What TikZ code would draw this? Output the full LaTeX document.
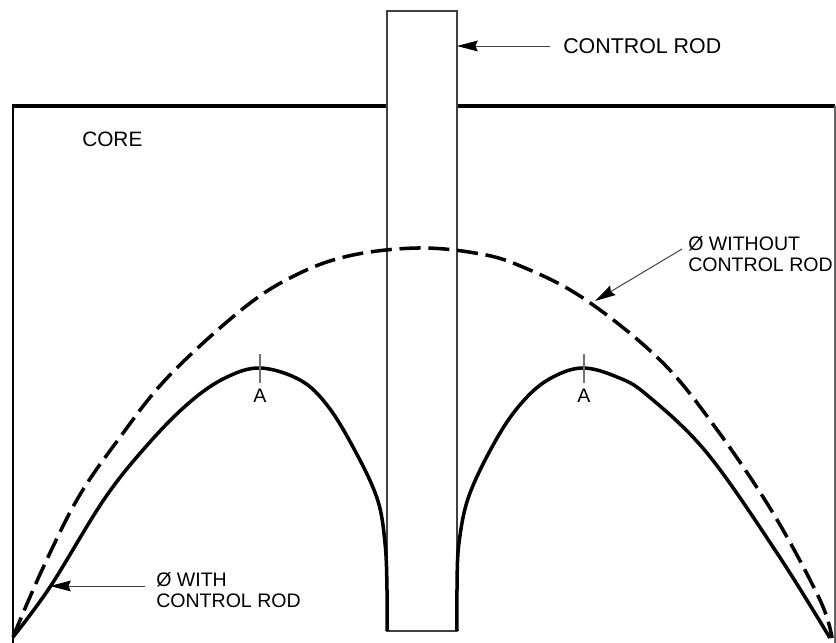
\documentclass[tikz,border=0pt]{standalone}
\usepackage{fontspec}
\setmainfont{Liberation Sans}
\usetikzlibrary{arrows.meta}
\tikzset{
  leader/.style={->, black!75, line width=0.7pt},
  flux/.style={line width=2.5pt, line join=round},
  tick/.style={black!55, line width=1.2pt},
  caption/.style={anchor=west, align=left, inner sep=0pt, font=\fontsize{13.9}{15}\selectfont}
}
\begin{document}
\begin{tikzpicture}[>={Stealth[length=0.52cm, width=0.27cm, inset=0.06cm, black]}, x=0.025cm, y=-0.025cm]
  \useasboundingbox (0,0) rectangle (836,643);
  % core outline
  \draw[line width=1.8pt] (13,643) -- (13,106);
  \draw[line width=2.3pt] (12,106) -- (387,106);
  \draw[line width=2.3pt] (457,106) -- (835,106);
  \draw[black!60, line width=1pt] (835,106) -- (835,643);
  % the rod
  \draw[black!75, line width=1pt] (387,11) rectangle (457,631);
  \coordinate (rodtop) at (457,11);
  % flux without the rod
  \draw[flux, dash pattern=on 15pt off 5.5pt] plot[smooth, tension=0.6] coordinates
    {(13,637) (42,570) (78,498) (118,440) (168,377) (245,307) (300,273) (353,255) (418,248)
     (475,253) (518,265) (583,298) (660,360) (715,427) (773,513) (820,600) (832,638)};
  % flux with the rod
  \draw[flux] plot[smooth, tension=0.6] coordinates
    {(13,637) (50,587) (105,498) (150,442) (190,402) (225,378) (260,368) (300,380) (327,405) (353,447) (377,498) (385,543) (387,590) (387,631)};
  \draw[flux] plot[smooth, tension=0.6] coordinates
    {(457,631) (457,590) (459,543) (470,493) (500,433) (527,397) (553,377) (583,368) (617,377) (647,395) (707,453) (777,553) (830,638)};
  % the two peaks
  \draw[tick] (260,354) -- (260,383);
  \draw[tick] (584,354) -- (584,383);
  \node[caption, anchor=center] (peakleft) at (260,396) {A};
  \node[caption, anchor=center] (peakright) at (584,396) {A};
  % labels
  \node[caption, font=\fontsize{14.8}{16}\selectfont] (corelabel) at (82,139) {CORE};
  \node[caption, font=\fontsize{15.2}{17}\selectfont] (rodlabel) at (563,46) {CONTROL ROD};
  \node[caption] (withoutlabel) at (688,254) {Ø WITHOUT\\CONTROL ROD};
  \node[caption] (withlabel) at (156,590) {Ø WITH\\CONTROL ROD};
  % leaders
  \coordinate (withouttail) at (682,249);
  \coordinate (withouttip) at (595,301);
  \coordinate (withtip) at (50,586);
  \draw[leader, shorten <=0.32cm] (rodlabel.west) -- (rodlabel.west -| rodtop);
  \draw[leader] (withouttail) -- (withouttip);
  \draw[leader, shorten <=0.27cm] (withlabel.west |- withtip) -- (withtip);
\end{tikzpicture}
\end{document}
